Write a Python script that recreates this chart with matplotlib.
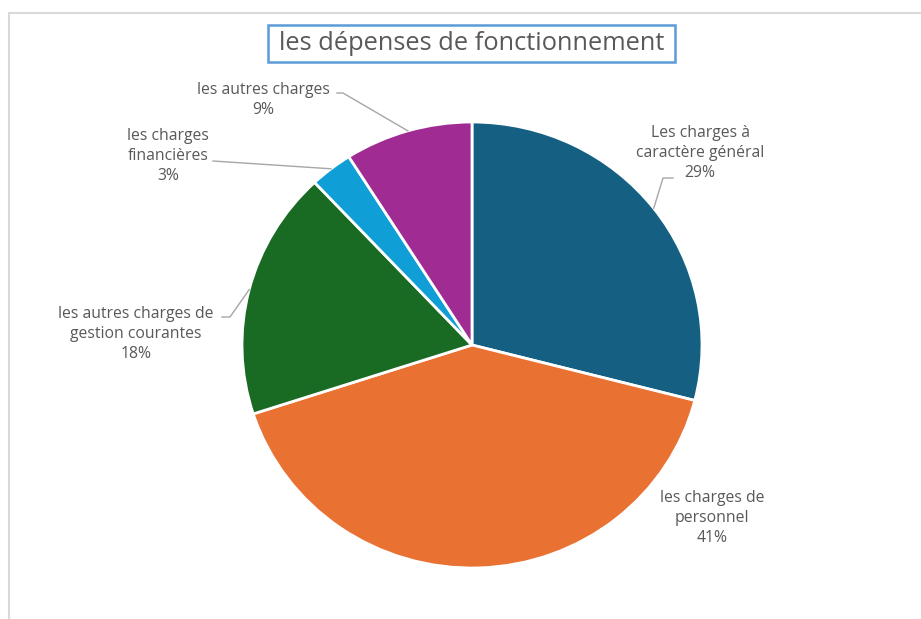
import numpy as np
import matplotlib
matplotlib.use("Agg")
import matplotlib.pyplot as plt
from matplotlib.patches import Rectangle

categories = ["Les charges à\ncaractère général", "les charges de\npersonnel",
              "les autres charges de\ngestion courantes", "les charges\nfinancières",
              "les autres charges"]
values = [29, 41, 18, 3, 9]
colors = ["#156082", "#E97132", "#196B24", "#0F9ED5", "#A02B93"]
title = "les dépenses de fonctionnement"

W, H = 921, 619
fig = plt.figure(figsize=(W / 100, H / 100), dpi=100)
fig.patch.set_facecolor("white")
ax = fig.add_axes([0, 0, 1, 1])

CX, CY, RX, RY = 472, 345, 230, 223

wedges, _ = ax.pie(values, colors=colors, startangle=90, counterclock=False,
                   wedgeprops=dict(edgecolor="white", linewidth=2))
ax.set_aspect("auto")
ax.set_xlim(-CX / RX, (W - CX) / RX)
ax.set_ylim((CY - H) / RY, CY / RY)
ax.axis("off")

def px(x, y):
    return ((x - CX) / RX, (CY - y) / RY)

# outer frame
fig.add_artist(Rectangle((9 / W, -0.05), 1.2, 1 - 13 / H + 0.05, transform=fig.transFigure,
                         fill=False, edgecolor="#d9d9d9", linewidth=1.5))
# title box
fig.add_artist(Rectangle((268 / W, 1 - 62 / H), (675 - 268) / W, (62 - 25) / H,
                         transform=fig.transFigure, fill=False, edgecolor="#5a9bd8", linewidth=1.8))
fig.text(471.5 / W, 1 - 44 / H, title, ha="center", va="center", fontsize=18.3,
         color="#595959", family="Open Sans")

label_pos = [(700, 153), (712, 518), (136, 334), (168, 156), (263, 100)]
leader_start = [[(673, 178), (663, 178)], None, [(222, 317), (230, 317)],
                [(213, 161)], [(337, 93), (343, 93)]]

total = sum(values)
cum = 0
for i, v in enumerate(values):
    mid = (cum + v / 2) / total
    cum += v
    ang = np.deg2rad(90 - 360 * mid)
    lx, ly = label_pos[i]
    ax.text(*px(lx, ly), f"{categories[i]}\n{v}%", ha="center", va="center",
            fontsize=11.3, color="#595959", family="Open Sans", linespacing=1.3)
    if leader_start[i] is not None:
        pts = [px(*p) for p in leader_start[i]] + [(np.cos(ang), np.sin(ang))]
        xs, ys = zip(*pts)
        ax.plot(xs, ys, color="#a6a6a6", linewidth=1, clip_on=False)

fig.savefig("out.png", dpi=100)
